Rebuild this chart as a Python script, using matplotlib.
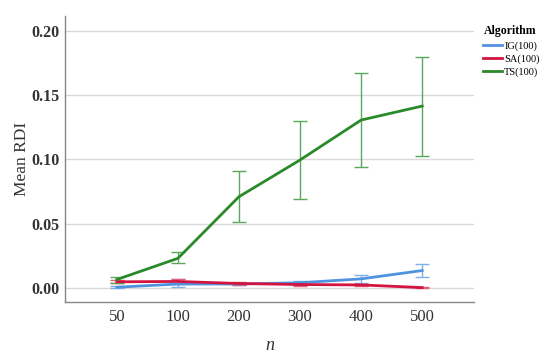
import matplotlib
matplotlib.use("Agg")
import matplotlib.pyplot as plt
import numpy as np

categories = ["50", "100", "200", "300", "400", "500"]
ig_mean = [0.0005, 0.003, 0.003, 0.004, 0.007, 0.0135]
ig_low = [0.0000, 0.0005, 0.002, 0.0025, 0.004, 0.0088]
ig_high = [0.0012, 0.007, 0.004, 0.0055, 0.0104, 0.0187]
sa_mean = [0.0047, 0.005, 0.0034, 0.0026, 0.0023, 0.0002]
sa_low = [0.0035, 0.003, 0.0025, 0.0018, 0.0015, 0.0001]
sa_high = [0.0058, 0.007, 0.0043, 0.0034, 0.0031, 0.0003]
ts_mean = [0.0065, 0.023, 0.071, 0.0996, 0.1307, 0.1416]
ts_low = [0.004, 0.019, 0.051, 0.069, 0.0944, 0.1027]
ts_high = [0.0085, 0.028, 0.091, 0.130, 0.167, 0.180]
labels = ["IG(100)", "SA(100)", "TS(100)"]
yticks = [0.00, 0.05, 0.10, 0.15, 0.20]

plt.rcParams['font.family'] = ['Liberation Serif', 'DejaVu Serif']

fig = plt.figure(figsize=(5.5, 3.53), dpi=100)
ax = fig.add_axes([0.118, 0.1445, 0.744, 0.81])

x = np.arange(len(categories))
series = [
    (ig_mean, ig_low, ig_high, "#4f93e0", "#7fb0ea"),
    (sa_mean, sa_low, sa_high, "#d2143f", "#e0607a"),
    (ts_mean, ts_low, ts_high, "#2a8a2a", "#5aa85a"),
]
for (m, lo, hi, c, ec), lab in zip(series, labels):
    m = np.array(m); lo = np.array(lo); hi = np.array(hi)
    ax.errorbar(x, m, yerr=[m - lo, hi - m], fmt='none', ecolor=ec,
                elinewidth=1.0, capsize=5, capthick=1.0, zorder=2)
    ax.plot(x, m, color=c, lw=2.0, label=lab, zorder=3)

ax.set_xlim(-0.85, 5.85)
ax.set_ylim(-0.011, 0.2117)
ax.set_xticks(x)
ax.set_xticklabels(categories, fontsize=12)
ax.set_yticks(yticks)
ax.set_yticklabels([f"{v:.2f}" for v in yticks], fontsize=11.5, fontweight='bold')
ax.tick_params(axis='y', length=0, pad=4, colors="#333333")
ax.tick_params(axis='x', length=0, pad=5, colors="#333333")
ax.grid(axis='y', color="#d9d9d9", lw=1)
ax.set_axisbelow(True)
for s in ["top", "right"]:
    ax.spines[s].set_visible(False)
for s in ["left", "bottom"]:
    ax.spines[s].set_color("#888888")
    ax.spines[s].set_linewidth(1)

ax.set_ylabel("Mean RDI", fontsize=12.5, color="#333333")
ax.yaxis.set_label_coords(-0.086, 0.5)
ax.set_xlabel("n", fontsize=13, style='italic', color="#333333", labelpad=9)

leg = ax.legend(title="Algorithm", loc='upper left', bbox_to_anchor=(1.0, 1.0),
                frameon=False, fontsize=7.5, handlelength=1.8, handletextpad=0.2,
                labelspacing=0.35, borderaxespad=0.5)
leg.get_title().set_fontweight('bold')
leg.get_title().set_fontsize(8.5)
leg._legend_box.align = "left"

fig.savefig("out.png", dpi=100)
